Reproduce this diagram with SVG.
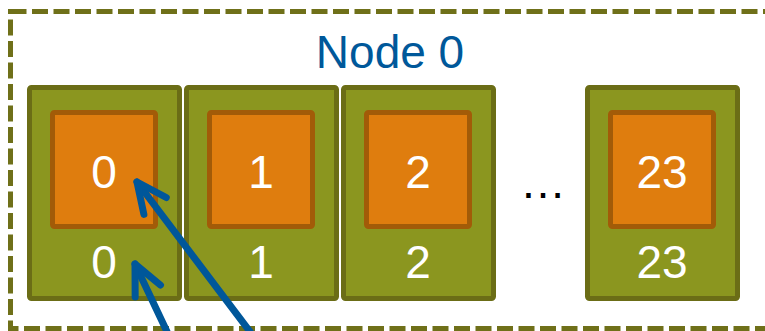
<svg xmlns="http://www.w3.org/2000/svg" width="765" height="331" viewBox="0 0 765 331">
  <style>
    .core{fill:#8B961F;stroke:#6B6D16;stroke-width:5;}
    .hw{fill:#DF7D0E;stroke:#A25B08;stroke-width:5;}
    .num{font-family:"Liberation Sans",Arial,sans-serif;font-size:46px;fill:#FFFFFF;text-anchor:middle;}
    .arrow{stroke:#00579A;stroke-width:7;stroke-linecap:round;stroke-linejoin:round;fill:none;}
  </style>
  <defs>
    <marker id="head" markerUnits="userSpaceOnUse" viewBox="-40 -20 50 40" refX="0" refY="0" markerWidth="50" markerHeight="40" orient="auto" overflow="visible">
      <path d="M -30,-14 L 0,0 L -30,14" fill="none" stroke="#00579A" stroke-width="7" stroke-linecap="round" stroke-linejoin="round"/>
    </marker>
  </defs>
  <rect width="765" height="331" fill="#FFFFFF"/>
  <g id="node0">
    <rect x="10.5" y="11.5" width="770" height="317" fill="none" stroke="#6F7019" stroke-width="5" stroke-dasharray="16 5.5"/>
    <text x="390" y="68" font-family="Liberation Sans, Arial, sans-serif" font-size="46" fill="#00589A" text-anchor="middle">Node 0</text>
  </g>
  <g id="core0">
    <rect class="core" x="29.5" y="87.5" width="150" height="211" rx="2"/>
    <rect class="hw" x="52.5" y="112.5" width="103" height="114" rx="2"/>
    <text class="num" x="104" y="188">0</text>
    <text class="num" x="104" y="278">0</text>
  </g>
  <g id="core1">
    <rect class="core" x="186.5" y="87.5" width="150" height="211" rx="2"/>
    <rect class="hw" x="209.5" y="112.5" width="103" height="114" rx="2"/>
    <text class="num" x="261" y="188">1</text>
    <text class="num" x="261" y="278">1</text>
  </g>
  <g id="core2">
    <rect class="core" x="343.5" y="87.5" width="150" height="211" rx="2"/>
    <rect class="hw" x="366.5" y="112.5" width="103" height="114" rx="2"/>
    <text class="num" x="418" y="188">2</text>
    <text class="num" x="418" y="278">2</text>
  </g>
  <g id="ellipsis">
    <text x="543" y="198" font-family="Liberation Sans, Arial, sans-serif" font-size="46" fill="#000000" text-anchor="middle">…</text>
  </g>
  <g id="core23">
    <rect class="core" x="587.5" y="87.5" width="150" height="211" rx="2"/>
    <rect class="hw" x="610.5" y="112.5" width="103" height="114" rx="2"/>
    <text class="num" x="662" y="188">23</text>
    <text class="num" x="662" y="278">23</text>
  </g>
  <g id="connectors">
    <line class="arrow" x1="254" y1="337" x2="137" y2="182" marker-end="url(#head)"/>
    <line class="arrow" x1="170" y1="338" x2="135" y2="264" marker-end="url(#head)"/>
  </g>
</svg>
